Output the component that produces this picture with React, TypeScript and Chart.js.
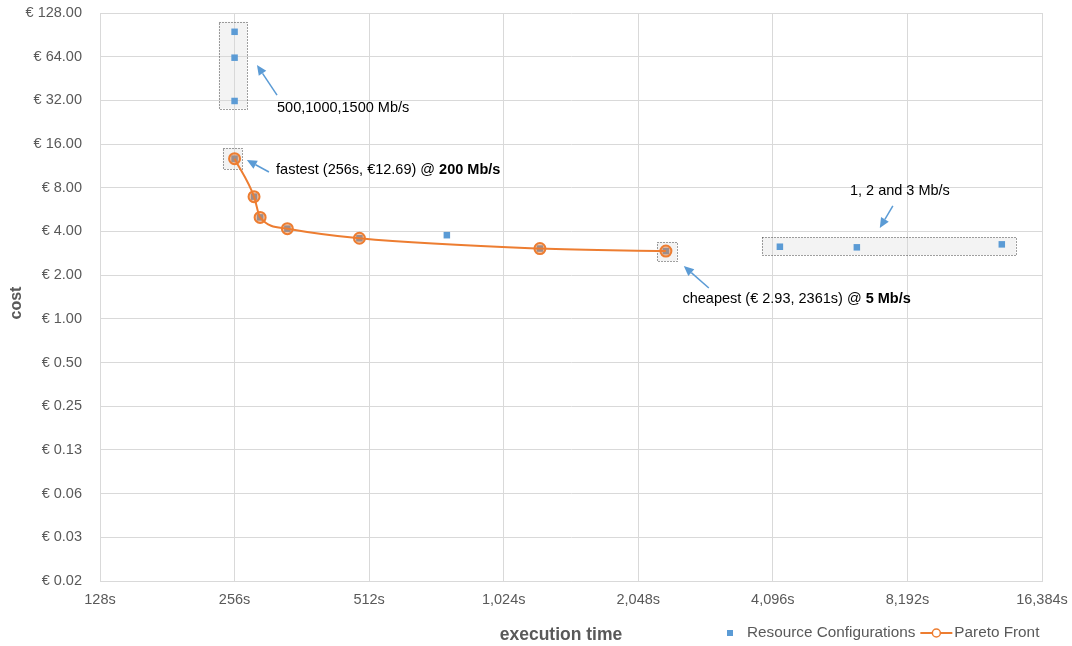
import { useEffect, useRef } from 'react';
import { Chart, registerables } from 'chart.js';

Chart.register(...registerables);

const FONT = '"Liberation Sans", Arial, Helvetica, sans-serif';
const GRAY_TEXT = '#595959';
const GRID = '#d9d9d9';
const BLUE = '#5B9BD5';
const ORANGE = '#ED7D31';

// ticks
const xTickValues = [128, 256, 512, 1024, 2048, 4096, 8192, 16384];
const yTickValues = [0.015625, 0.03125, 0.0625, 0.125, 0.25, 0.5, 1, 2, 4, 8, 16, 32, 64, 128];

// series: Resource Configurations (execution time s, cost €)
const configTimes = [256, 256, 256, 256, 283, 292, 336, 487, 764, 1234, 2361, 4247, 6313, 13320];
const configCosts = [95, 63, 31.7, 12.69, 6.95, 5.0, 4.18, 3.59, 3.77, 3.05, 2.93, 3.14, 3.11, 3.26];

// series: Pareto Front
const paretoTimes = [256, 283, 292, 336, 487, 1234, 2361];
const paretoCosts = [12.69, 6.95, 5.0, 4.18, 3.59, 3.05, 2.93];

// annotations (data coordinates)
const boxes = [
  { x0: 236, x1: 273, y0: 28.1, y1: 111.4 },
  { x0: 241, x1: 266, y0: 10.77, y1: 15.04 },
  { x0: 2254, x1: 2497, y0: 2.5, y1: 3.39 },
  { x0: 3871, x1: 14313, y0: 2.75, y1: 3.64 },
];
const arrows = [
  { fx: 318.6, fy: 34.8, tx: 287.3, ty: 56.1 },
  { fx: 305.6, fy: 10.27, tx: 272.7, ty: 12.43 },
  { fx: 2945, fy: 1.63, tx: 2589, ty: 2.31 },
  { fx: 7600, fy: 6.0, tx: 7105, ty: 4.23 },
];
const notes = [
  { x: 318.6, y: 28.3, align: 'left', parts: [{ text: '500,1000,1500 Mb/s', bold: false }] },
  { x: 317.0, y: 10.6, align: 'left', parts: [{ text: 'fastest (256s, €12.69) @ ', bold: false }, { text: '200 Mb/s', bold: true }] },
  { x: 2571, y: 1.37, align: 'left', parts: [{ text: 'cheapest (€ 2.93, 2361s) @ ', bold: false }, { text: '5 Mb/s', bold: true }] },
  { x: 7880, y: 7.6, align: 'center', parts: [{ text: '1, 2 and 3 Mb/s', bold: false }] },
];

const legendLabels = ['Resource Configurations', 'Pareto Front'];
const xTitle = 'execution time';
const yTitle = 'cost';

const NOTE_SIZE = 14.5;

const annotationPlugin = {
  id: 'annotations',
  beforeDatasetsDraw(chart: any) {
    const { ctx, scales } = chart;
    const xs = scales.x, ys = scales.y;
    ctx.save();
    for (const b of boxes) {
      const l = xs.getPixelForValue(b.x0), r = xs.getPixelForValue(b.x1);
      const t = ys.getPixelForValue(b.y1), bt = ys.getPixelForValue(b.y0);
      ctx.fillStyle = 'rgba(215,215,215,0.3)';
      ctx.fillRect(l, t, r - l, bt - t);
      ctx.setLineDash([1, 2]);
      ctx.strokeStyle = '#404040';
      ctx.lineWidth = 1;
      ctx.strokeRect(Math.round(l) + 0.5, Math.round(t) + 0.5, Math.round(r - l), Math.round(bt - t));
    }
    ctx.restore();
  },
  afterDatasetsDraw(chart: any) {
    const { ctx, scales } = chart;
    const xs = scales.x, ys = scales.y;
    ctx.save();
    ctx.setLineDash([]);
    for (const a of arrows) {
      const fx = xs.getPixelForValue(a.fx), fy = ys.getPixelForValue(a.fy);
      const tx = xs.getPixelForValue(a.tx), ty = ys.getPixelForValue(a.ty);
      const ang = Math.atan2(ty - fy, tx - fx);
      const hl = 10, hw = 4.5;
      const bx = tx - hl * Math.cos(ang), by = ty - hl * Math.sin(ang);
      ctx.strokeStyle = BLUE;
      ctx.fillStyle = BLUE;
      ctx.lineWidth = 1.5;
      ctx.beginPath();
      ctx.moveTo(fx, fy);
      ctx.lineTo(bx, by);
      ctx.stroke();
      ctx.beginPath();
      ctx.moveTo(tx, ty);
      ctx.lineTo(bx + hw * Math.sin(ang), by - hw * Math.cos(ang));
      ctx.lineTo(bx - hw * Math.sin(ang), by + hw * Math.cos(ang));
      ctx.closePath();
      ctx.fill();
    }
    ctx.textBaseline = 'middle';
    ctx.textAlign = 'left';
    ctx.fillStyle = '#000';
    for (const n of notes) {
      const px = xs.getPixelForValue(n.x), py = ys.getPixelForValue(n.y);
      let total = 0;
      const widths = n.parts.map((p) => {
        ctx.font = `${p.bold ? 'bold ' : ''}${NOTE_SIZE}px ${FONT}`;
        const w = ctx.measureText(p.text).width;
        total += w;
        return w;
      });
      let x = n.align === 'center' ? px - total / 2 : px;
      n.parts.forEach((p, i) => {
        ctx.font = `${p.bold ? 'bold ' : ''}${NOTE_SIZE}px ${FONT}`;
        ctx.fillText(p.text, x, py);
        x += widths[i];
      });
    }
    ctx.restore();
  },
  afterDraw(chart: any) {
    const { ctx, chartArea } = chart;
    ctx.save();
    // axis titles
    ctx.font = `bold 17.5px ${FONT}`;
    ctx.fillStyle = GRAY_TEXT;
    ctx.textAlign = 'center';
    ctx.textBaseline = 'middle';
    ctx.fillText(xTitle, (chartArea.left + chartArea.right) / 2 - 10, 635);
    ctx.save();
    ctx.translate(17, (chartArea.top + chartArea.bottom) / 2 + 6);
    ctx.rotate(-Math.PI / 2);
    ctx.font = `bold 16px ${FONT}`;
    ctx.fillText(yTitle, 0, 0);
    ctx.restore();
    // legend
    ctx.font = `15.3px ${FONT}`;
    ctx.textAlign = 'left';
    const w1 = ctx.measureText(legendLabels[0]).width;
    let x = 727;
    const y = 633;
    ctx.fillStyle = BLUE;
    ctx.fillRect(x, y - 3, 6, 6);
    x += 6 + 14;
    ctx.fillStyle = GRAY_TEXT;
    ctx.fillText(legendLabels[0], x, y);
    x += w1 + 5;
    ctx.strokeStyle = ORANGE;
    ctx.lineWidth = 2;
    ctx.beginPath();
    ctx.moveTo(x, y);
    ctx.lineTo(x + 32, y);
    ctx.stroke();
    ctx.beginPath();
    ctx.arc(x + 16, y, 4, 0, Math.PI * 2);
    ctx.fillStyle = '#fff';
    ctx.fill();
    ctx.lineWidth = 1.5;
    ctx.stroke();
    x += 32 + 2;
    ctx.fillStyle = GRAY_TEXT;
    ctx.fillText(legendLabels[1], x, y);
    ctx.restore();
  },
};

export default function App() {
  const ref = useRef<HTMLCanvasElement | null>(null);

  useEffect(() => {
    document.body.style.margin = '0';
    if (!ref.current) return;
    const chart = new Chart(ref.current, {
      type: 'scatter',
      data: {
        datasets: [
          {
            label: legendLabels[0],
            data: configTimes.map((t, i) => ({ x: t, y: configCosts[i] })),
            backgroundColor: BLUE,
            borderColor: BLUE,
            pointStyle: 'rect',
            pointRadius: 4.6,
            pointBorderWidth: 0,
            showLine: false,
            order: 1,
          },
          {
            label: legendLabels[1],
            data: paretoTimes.map((t, i) => ({ x: t, y: paretoCosts[i] })),
            borderColor: ORANGE,
            backgroundColor: 'rgba(237,125,49,0.45)',
            pointBackgroundColor: 'rgba(237,125,49,0.45)',
            pointBorderColor: ORANGE,
            pointRadius: 5.5,
            pointBorderWidth: 2,
            borderWidth: 2,
            showLine: true,
            cubicInterpolationMode: 'monotone',
            order: 0,
          } as any,
        ],
      },
      options: {
        responsive: false,
        animation: false,
        layout: { padding: { top: 13, right: 30, left: 0, bottom: 0 } },
        plugins: {
          legend: { display: false },
          tooltip: { enabled: false },
        },
        scales: {
          x: {
            type: 'logarithmic',
            min: xTickValues[0],
            max: xTickValues[xTickValues.length - 1],
            afterBuildTicks: (s: any) => {
              s.ticks = xTickValues.map((v) => ({ value: v }));
            },
            afterFit: (s: any) => {
              s.height = 65;
              s.paddingLeft = 0;
              s.paddingRight = 0;
              s.paddingTop = 0;
              s.paddingBottom = 0;
            },
            ticks: {
              autoSkip: false,
              maxRotation: 0,
              padding: 10,
              color: GRAY_TEXT,
              font: { family: FONT, size: 14.5 },
              callback: (v: any) => Number(v).toLocaleString('en-US') + 's',
            },
            grid: { color: GRID, drawTicks: false },
            border: { color: GRID },
            title: { display: false, text: xTitle },
          },
          y: {
            type: 'logarithmic',
            min: yTickValues[0],
            max: yTickValues[yTickValues.length - 1],
            afterBuildTicks: (s: any) => {
              s.ticks = yTickValues.map((v) => ({ value: v }));
            },
            afterFit: (s: any) => {
              s.width = 100;
              s.paddingLeft = 0;
              s.paddingRight = 0;
              s.paddingTop = 0;
              s.paddingBottom = 0;
            },
            ticks: {
              autoSkip: false,
              padding: 18,
              color: GRAY_TEXT,
              font: { family: FONT, size: 14.5 },
              callback: (v: any) => '€ ' + Number(v).toFixed(2),
            },
            grid: { color: GRID, drawTicks: false },
            border: { color: GRID },
            title: { display: false, text: yTitle },
          },
        },
      },
      plugins: [annotationPlugin],
    } as any);
    return () => chart.destroy();
  }, []);

  return (
    <div style={{ width: 1072, height: 646 }}>
      <canvas ref={ref} width={1072} height={646} />
    </div>
  );
}
